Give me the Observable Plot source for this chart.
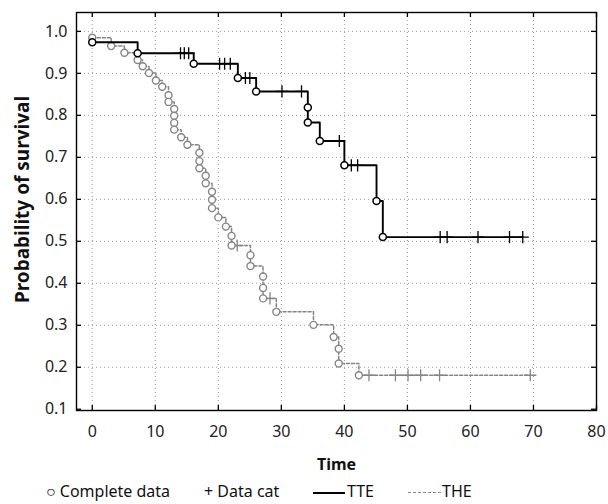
<!DOCTYPE html>
<html><head><meta charset="utf-8">
<script src="https://cdn.jsdelivr.net/npm/d3@7"></script>
<script src="https://cdn.jsdelivr.net/npm/@observablehq/plot@0.6"></script>
<style>
body{margin:0;background:#fff;font-family:"Noto Sans",sans-serif;}
#wrap{position:relative;width:608px;height:504px;}
#legend{position:absolute;left:0;top:478px;width:608px;height:26px;font-size:16px;color:#111;}
#legend span{position:absolute;white-space:nowrap;}
.ln{height:0;top:14px;}
</style></head><body>
<div id="wrap"><div id="chart"></div>
<div id="legend">
  <span style="left:46px;top:2px;">○ Complete data</span>
  <span style="left:204px;top:2px;">+ Data cat</span>
  <span class="ln" style="left:313px;width:32px;border-top:2px solid #000;"></span>
  <span style="left:347px;top:2px;">TTE</span>
  <span class="ln" style="left:408px;width:33px;border-top:1.5px dashed #888;"></span>
  <span style="left:442px;top:2px;">THE</span>
</div></div>
<script>
// ---- data ----
const xTicks = [0, 10, 20, 30, 40, 50, 60, 70, 80];
const yTicks = [0.1, 0.2, 0.3, 0.4, 0.5, 0.6, 0.7, 0.8, 0.9, 1.0];

const tteTime = [0, 7.2, 16.1, 23.1, 26.0, 34.2, 34.2, 36.1, 40.0, 45.1, 46.1];
const tteSurv = [0.974, 0.948, 0.923, 0.889, 0.857, 0.819, 0.783, 0.739, 0.681, 0.596, 0.510];
const tteCensor = [14.0, 14.6, 15.3, 20.2, 21.0, 21.9, 24.3, 25.0, 30.1, 33.2, 39.2, 41.1, 42.1, 55.2, 56.3, 61.2, 66.2, 68.3];

const theTime = [0, 3.0, 5.1, 7.2, 8.0, 9.0, 10.1, 11.1, 12.1, 12.1, 13.0, 13.0, 13.0, 13.0, 14.1, 15.1,
  17.0, 17.0, 17.0, 18.0, 18.0, 19.0, 19.0, 19.0, 20.0, 21.2, 22.1, 22.1, 25.1, 25.1, 27.1, 27.1, 27.1,
  29.2, 35.1, 38.3, 39.1, 39.1, 42.3];
const theSurv = [0.985, 0.965, 0.949, 0.932, 0.917, 0.901, 0.883, 0.868, 0.848, 0.832, 0.815, 0.799, 0.782, 0.766, 0.748, 0.730,
  0.711, 0.691, 0.674, 0.656, 0.638, 0.618, 0.599, 0.579, 0.557, 0.535, 0.513, 0.490, 0.467, 0.441, 0.416, 0.389, 0.364,
  0.332, 0.301, 0.272, 0.244, 0.209, 0.181];
const theCensor = [23.0, 28.2, 43.9, 48.1, 50.1, 52.1, 55.1, 69.5];

// ---- helpers ----
function stepPoints(times, surv, censor) {
  const pts = times.map((t, i) => ({t, s: surv[i]}));
  pts.push({t: d3.max(censor), s: surv[surv.length - 1]});
  return pts;
}
function survAt(times, surv, t) {
  let s = 1;
  for (let i = 0; i < times.length; i++) if (times[i] <= t) s = surv[i];
  return s;
}
const tteEvents = tteTime.map((t, i) => ({t, s: tteSurv[i]}));
const theEvents = theTime.map((t, i) => ({t, s: theSurv[i]}));
const tteCens = tteCensor.map(t => ({t, s: survAt(tteTime, tteSurv, t)}));
const theCens = theCensor.map(t => ({t, s: survAt(theTime, theSurv, t)}));

const W = 608, H = 478, mL = 76, mR = 12, mT = 12, mB = 68;
const pW = W - mL - mR, pH = H - mT - mB;
const gray = "#858585";
const grid = {stroke: "#9a9a9a", strokeOpacity: 1, strokeDasharray: "1,3"};

const chart = Plot.plot({
  width: W, height: H,
  marginLeft: mL, marginRight: mR, marginTop: mT, marginBottom: mB,
  style: {fontFamily: '"Noto Sans", sans-serif', fontSize: "16px", color: "#222", background: "#fff"},
  x: {domain: [-2.5, 80]},
  y: {domain: [0.097, 1.045]},
  marks: [
    Plot.gridX(xTicks.filter(d => d < 80), grid),
    Plot.gridY(yTicks.filter(d => d > 0.1), grid),
    Plot.axisX(xTicks, {anchor: "bottom", tickSize: 0, tickPadding: 15, label: null, fontSize: 16}),
    Plot.axisY(yTicks, {anchor: "left", tickSize: 0, tickPadding: 9, label: null, fontSize: 16, tickFormat: d3.format(".1f")}),
    Plot.tickX(xTicks, {x: d => d, insetTop: pH - 5, stroke: "#000", strokeWidth: 1.3}),
    Plot.tickX(xTicks, {x: d => d, insetBottom: pH - 5, stroke: "#000", strokeWidth: 1.3}),
    Plot.tickY(yTicks, {y: d => d, insetRight: pW - 5, stroke: "#000", strokeWidth: 1.3}),
    Plot.tickY(yTicks, {y: d => d, insetLeft: pW - 5, stroke: "#000", strokeWidth: 1.3}),
    Plot.frame({stroke: "#000", strokeWidth: 1.4}),
    // THE
    Plot.line(stepPoints(theTime, theSurv, theCensor), {x: "t", y: "s", curve: "step-after", stroke: gray, strokeWidth: 1.5, strokeDasharray: "3,2"}),
    Plot.dot(theCens, {x: "t", y: "s", symbol: "plus", r: 4, stroke: gray, strokeWidth: 1.3}),
    Plot.dot(theEvents, {x: "t", y: "s", r: 3.5, fill: "#fff", stroke: gray, strokeWidth: 1.4}),
    // TTE
    Plot.line(stepPoints(tteTime, tteSurv, tteCensor), {x: "t", y: "s", curve: "step-after", stroke: "#000", strokeWidth: 1.9}),
    Plot.dot(tteCens, {x: "t", y: "s", symbol: "plus", r: 4, stroke: "#000", strokeWidth: 1.3}),
    Plot.dot(tteEvents, {x: "t", y: "s", r: 3.5, fill: "#fff", stroke: "#000", strokeWidth: 1.5}),
    // axis titles
    Plot.text(["Time"], {frameAnchor: "bottom", dy: 59, fontWeight: "bold", fontSize: 16, fill: "#111"}),
    Plot.text(["Probability of survival"], {frameAnchor: "left", textAnchor: "middle", dx: -54, dy: -12, rotate: -90, fontWeight: "bold", fontSize: 19, fill: "#111"})
  ]
});
document.getElementById("chart").appendChild(chart);
</script>
</body></html>
